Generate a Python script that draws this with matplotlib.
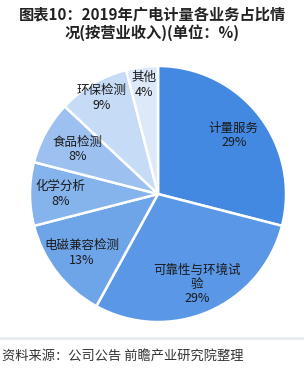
import matplotlib.pyplot as plt
import numpy as np

plt.rcParams['font.family'] = ['Noto Sans CJK SC', 'DejaVu Sans']

categories = ["计量服务", "可靠性与环境试\n验", "电磁兼容检测", "化学分析", "食品检测", "环保检测", "其他"]
shares = [29, 29, 13, 8, 8, 9, 4]
colors = ["#4489e1", "#5a97e6", "#6ea5e9", "#85b3ec", "#9cc1f0", "#c6dbf6", "#dde9f9"]
explode = [0.03, 0.02, 0, 0, 0, 0, 0]
label_dist = [0.75, 0.77, 0.75, 0.76, 0.72, 0.87, 0.86]

W, H = 304, 372
fig = plt.figure(figsize=(W / 100, H / 100), dpi=100)
ax = fig.add_axes([0, 0, 1, 1])

cx, cy, R = 158, H - 194, 128
wedges, _ = ax.pie(shares, colors=colors, startangle=90, counterclock=False,
                   explode=explode, center=(cx, cy), radius=R, frame=True,
                   wedgeprops=dict(edgecolor='white', linewidth=1.8))
ax.set_xlim(0, W)
ax.set_ylim(0, H)
ax.set_aspect('equal')
ax.axis('off')

for w, name, val, d in zip(wedges, categories, shares, label_dist):
    ang = np.deg2rad((w.theta1 + w.theta2) / 2)
    x = cx + d * R * np.cos(ang)
    y = cy + d * R * np.sin(ang)
    ax.text(x, y, name + "\n" + "%d%%" % val, ha='center', va='center',
            fontsize=9, color='#1a1a1a', linespacing=1.15)

fig.text(0.5, 1 - 14 / H, "图表10：2019年广电计量各业务占比情", ha='center', va='center',
         fontsize=11, fontweight='bold', color='#222222')
fig.text(0.5, 1 - 33 / H, "况(按营业收入)(单位：%)", ha='center', va='center',
         fontsize=11, fontweight='bold', color='#222222')

ax.axhline(H - 338, color='#e6ebf1', linewidth=2)
fig.text(2 / W, 1 - 356 / H, "资料来源：公司公告 前瞻产业研究院整理", ha='left', va='center',
         fontsize=9.5, color='#333333')

fig.savefig("out.png", dpi=100)
